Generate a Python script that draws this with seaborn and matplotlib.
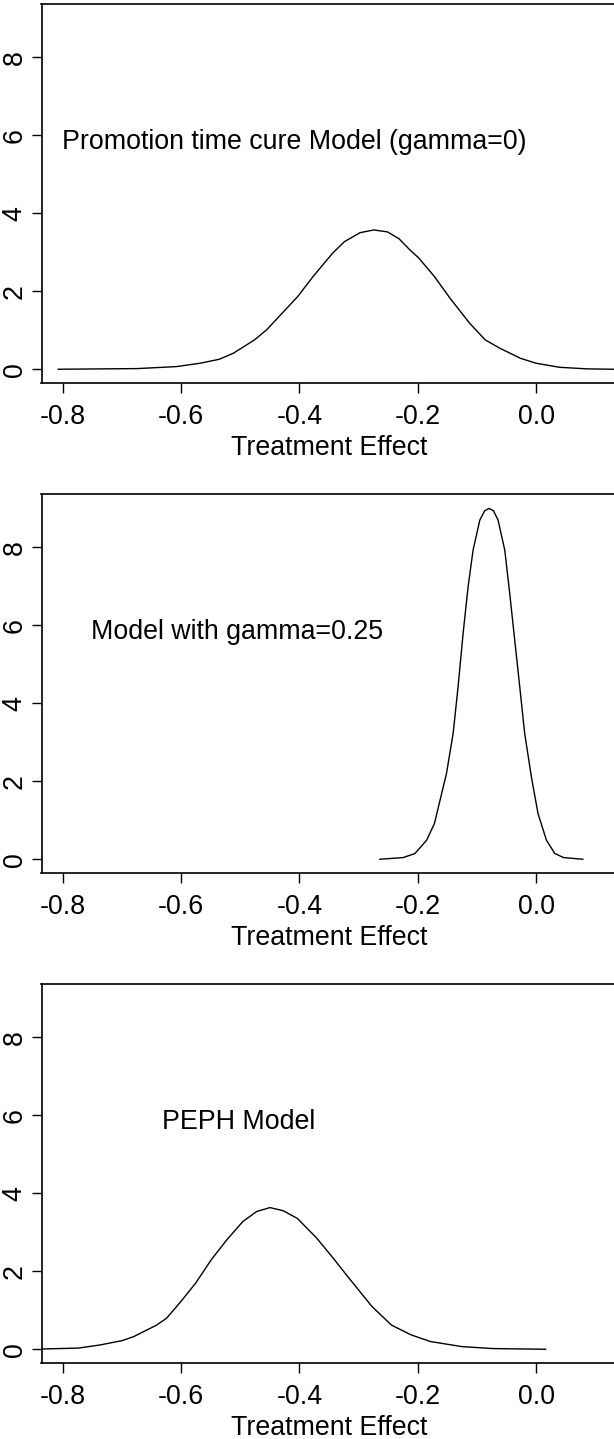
import numpy as np
import pandas as pd
import matplotlib
matplotlib.use("Agg")
import matplotlib.pyplot as plt
import seaborn as sns

# posterior density curves
promo_x = [-0.808, -0.674, -0.608, -0.568, -0.5355, -0.5118, -0.476, -0.4555, -0.403,
           -0.377, -0.344, -0.324, -0.2975, -0.2744, -0.2512, -0.2314, -0.2135, -0.1983,
           -0.1719, -0.1455, -0.1124, -0.086, -0.0615, -0.0264, 0.0, 0.0397, 0.086, 0.131, 0.2]
promo_y = [0.0, 0.017, 0.068, 0.154, 0.256, 0.41, 0.752, 1.01, 1.863,
           2.376, 2.974, 3.27, 3.50, 3.57, 3.52, 3.34, 3.06, 2.85,
           2.376, 1.82, 1.18, 0.752, 0.54, 0.28, 0.154, 0.05, 0.01, 0.0, 0.0]

g25_x = [-0.2645, -0.2248, -0.205, -0.1851, -0.1719, -0.1515, -0.1403, -0.1319,
         -0.1234, -0.115, -0.1066, -0.0952, -0.087, -0.0796, -0.072, -0.0643, -0.053,
         -0.0446, -0.0362, -0.0277, -0.0193, -0.008, 0.0032, 0.0174, 0.0314, 0.0463, 0.0793]
g25_y = [0.0, 0.043, 0.145, 0.487, 0.915, 2.2, 3.22, 4.42,
         5.79, 6.98, 7.92, 8.69, 8.93, 8.99, 8.93, 8.69, 7.92,
         6.81, 5.62, 4.42, 3.22, 2.11, 1.17, 0.49, 0.15, 0.043, 0.0]

peph_x = [-0.84, -0.7736, -0.737, -0.7, -0.6807, -0.6413, -0.6243, -0.6017, -0.5752,
          -0.5488, -0.523, -0.4959, -0.4724, -0.4499, -0.4274, -0.4033, -0.371, -0.3438,
          -0.3204, -0.2777, -0.2446, -0.2116, -0.1785, -0.1256, -0.0727, 0.0165]
peph_y = [0.005, 0.03, 0.11, 0.22, 0.32, 0.62, 0.8, 1.2, 1.7,
          2.3, 2.8, 3.27, 3.53, 3.63, 3.55, 3.35, 2.85, 2.35,
          1.9, 1.1, 0.62, 0.37, 0.197, 0.068, 0.017, 0.0]

labels = ["Promotion time cure Model (gamma=0)", "Model with gamma=0.25", "PEPH Model"]
label_x = [-0.408, -0.505, -0.5025]
xticks = [-0.8, -0.6, -0.4, -0.2, 0.0]
yticks = [0, 2, 4, 6, 8]

sns.set_theme(style="white")
plt.rcParams['font.family'] = ['Liberation Sans', 'DejaVu Sans']
FS = 19.3

W, H = 614, 1439
fig = plt.figure(figsize=(W / 100, H / 100), dpi=100)

curves = [(promo_x, promo_y), (g25_x, g25_y), (peph_x, peph_y)]
tops = [4, 494, 984]
left_px, right_px, h_px = 41.5, 616, 379.3

for i, (xs, ys) in enumerate(curves):
    top = tops[i]
    ax = fig.add_axes([left_px / W, 1 - (top + h_px) / H, (right_px - left_px) / W, h_px / H])
    df = pd.DataFrame({'x': xs, 'y': ys})
    sns.lineplot(data=df, x='x', y='y', ax=ax, color='black', linewidth=1.0)
    ax.set_xlim(-0.836, 0.135)
    ax.set_ylim(-0.36, 9.36)
    ax.set_xticks(xticks)
    ax.set_xticklabels([f"{t:.1f}" for t in xticks])
    ax.set_yticks(yticks)
    ax.set_yticklabels([str(t) for t in yticks], rotation=90, va='center')
    ax.tick_params(axis='x', bottom=True, length=7, width=1, color='black', pad=8,
                   labelsize=FS, labelcolor='black')
    ax.tick_params(axis='y', left=True, length=7, width=1, color='black', pad=3,
                   labelsize=FS, labelcolor='black')
    for sp in ax.spines.values():
        sp.set_color('black')
        sp.set_linewidth(1.2)
    ax.set_ylabel('')
    ax.set_xlabel('Treatment Effect', fontsize=FS, color='black')
    ax.xaxis.set_label_coords(0.5, -0.189)
    ax.xaxis.label.set_va('baseline')
    ax.text(label_x[i], 5.65, labels[i], ha='center', va='baseline', fontsize=FS, color='black')

fig.savefig('out.png', dpi=100)
